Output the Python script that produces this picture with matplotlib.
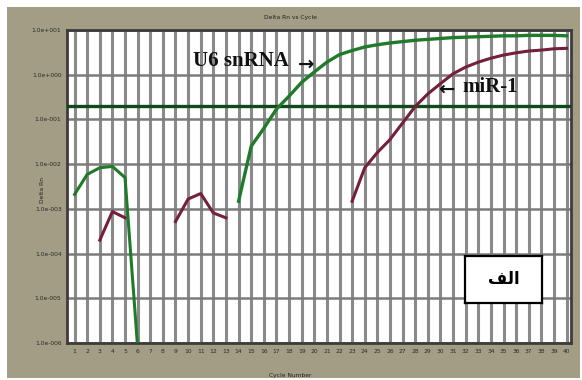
import math
import matplotlib
matplotlib.use("Agg")
import matplotlib.pyplot as plt
from matplotlib.patches import Rectangle
from matplotlib.ticker import FixedLocator, FuncFormatter

# ---- data ----
cycles_all = list(range(1, 41))

u6_noise_cycles = [1, 2, 3, 4, 5, 6]
u6_noise_values = [2.1e-3, 5.9e-3, 8.3e-3, 8.9e-3, 5.0e-3, 8e-7]

u6_cycles = list(range(14, 41))
u6_values = [1.48e-3, 0.0251, 0.0631, 0.170, 0.331, 0.676, 1.15, 1.91, 2.82,
             3.47, 4.17, 4.68, 5.13, 5.50, 5.89, 6.17, 6.46, 6.76, 6.92, 7.08,
             7.24, 7.41, 7.41, 7.59, 7.59, 7.59, 7.41]

mir_noise1_cycles = [3, 4, 5]
mir_noise1_values = [2.0e-4, 8.7e-4, 6.3e-4]

mir_noise2_cycles = [9, 10, 11, 12, 13]
mir_noise2_values = [5.2e-4, 1.66e-3, 2.2e-3, 8.1e-4, 6.3e-4]

mir_cycles = list(range(23, 41))
mir_values = [1.48e-3, 8.3e-3, 0.0182, 0.0355, 0.0832, 0.195, 0.372, 0.631,
              1.05, 1.48, 1.91, 2.34, 2.75, 3.09, 3.39, 3.55, 3.80, 3.89]

threshold = 0.2
y_ticks = [1e-6, 1e-5, 1e-4, 1e-3, 1e-2, 1e-1, 1e0, 1e1]

# ---- figure ----
W, H = 582, 380
fig = plt.figure(figsize=(W / 100, H / 100), dpi=100, facecolor="white")
fig.patches.append(Rectangle((7 / W, 2 / H), 573 / W, 371 / H,
                             transform=fig.transFigure, facecolor="#a29d84",
                             edgecolor="none", zorder=-10))

ax = fig.add_axes([67 / W, 1 - 343 / H, (571 - 67) / W, (343 - 30) / H])
ax.set_zorder(1)
ax.set_facecolor("white")
ax.set_yscale("log")
ax.set_xlim(0.4, 40.35)
ax.set_ylim(1e-6, 1e1)

ax.xaxis.set_major_locator(FixedLocator(cycles_all))
ax.yaxis.set_major_locator(FixedLocator(y_ticks))
ax.yaxis.set_minor_locator(FixedLocator([]))
ax.yaxis.set_major_formatter(FuncFormatter(
    lambda v, p: "1.0e%+04d" % round(math.log10(v))))
ax.grid(True, axis="x", color="#8a8a8a", lw=2.2, zorder=1)
ax.grid(True, axis="y", color="#7c7c7c", lw=1.8, zorder=1)
ax.tick_params(length=0, labelsize=4.3, colors="#2a2a2a", pad=4)
for s in ax.spines.values():
    s.set_color("#3c3c3c")
    s.set_linewidth(2)

green = "#1f7a2a"
maroon = "#74203a"
ax.axhline(threshold, color="#0e4a1c", lw=2.4, zorder=3)
ax.plot(u6_noise_cycles, u6_noise_values, color=green, lw=2.2, zorder=4)
ax.plot(u6_cycles, u6_values, color=green, lw=2.4, zorder=4)
ax.plot(mir_noise1_cycles, mir_noise1_values, color=maroon, lw=2.2, zorder=4)
ax.plot(mir_noise2_cycles, mir_noise2_values, color=maroon, lw=2.2, zorder=4)
ax.plot(mir_cycles, mir_values, color=maroon, lw=2.2, zorder=4)

serif = ["Liberation Serif", "DejaVu Serif"]
fig.text(193 / W, 1 - 61 / H, "U6 snRNA", family=serif, weight="bold",
         fontsize=15, ha="left", va="center", color="#111111", zorder=10)
fig.text(298 / W, 1 - 64 / H, "\u2192", family=["DejaVu Sans"], weight="bold",
         fontsize=14, ha="left", va="center", color="#111111", zorder=10)
fig.text(438 / W, 1 - 89 / H, "\u2190", family=["DejaVu Sans"], weight="bold",
         fontsize=14, ha="left", va="center", color="#111111", zorder=10)
fig.text(462 / W, 1 - 87 / H, "miR-1", family=serif, weight="bold",
         fontsize=15, ha="left", va="center", color="#111111", zorder=10)

# label box (Arabic, presentation forms in visual order)
ax_box = fig.add_axes([465 / W, 1 - 303 / H, 77 / W, 47 / H])
ax_box.set_zorder(5)
ax_box.set_xticks([]); ax_box.set_yticks([])
ax_box.set_facecolor("white")
for s in ax_box.spines.values():
    s.set_color("black"); s.set_linewidth(1.6)
ax_box.text(0.5, 0.5, "\uFED2\uFEDF\u0627", family=["DejaVu Sans"],
            weight="bold", fontsize=12, ha="center", va="center",
            transform=ax_box.transAxes)

fig.text(290 / W, 1 - 17 / H, "Delta Rn vs Cycle", fontsize=4.3,
         ha="center", va="center", color="#222222")
fig.text(43 / W, 1 - 190 / H, "Delta Rn", fontsize=4.3, rotation=90,
         ha="center", va="center", color="#222222")
fig.text(290 / W, 1 - 375 / H, "Cycle Number", fontsize=4.3,
         ha="center", va="center", color="#222222")

fig.savefig("out.png", dpi=100, facecolor="white")
